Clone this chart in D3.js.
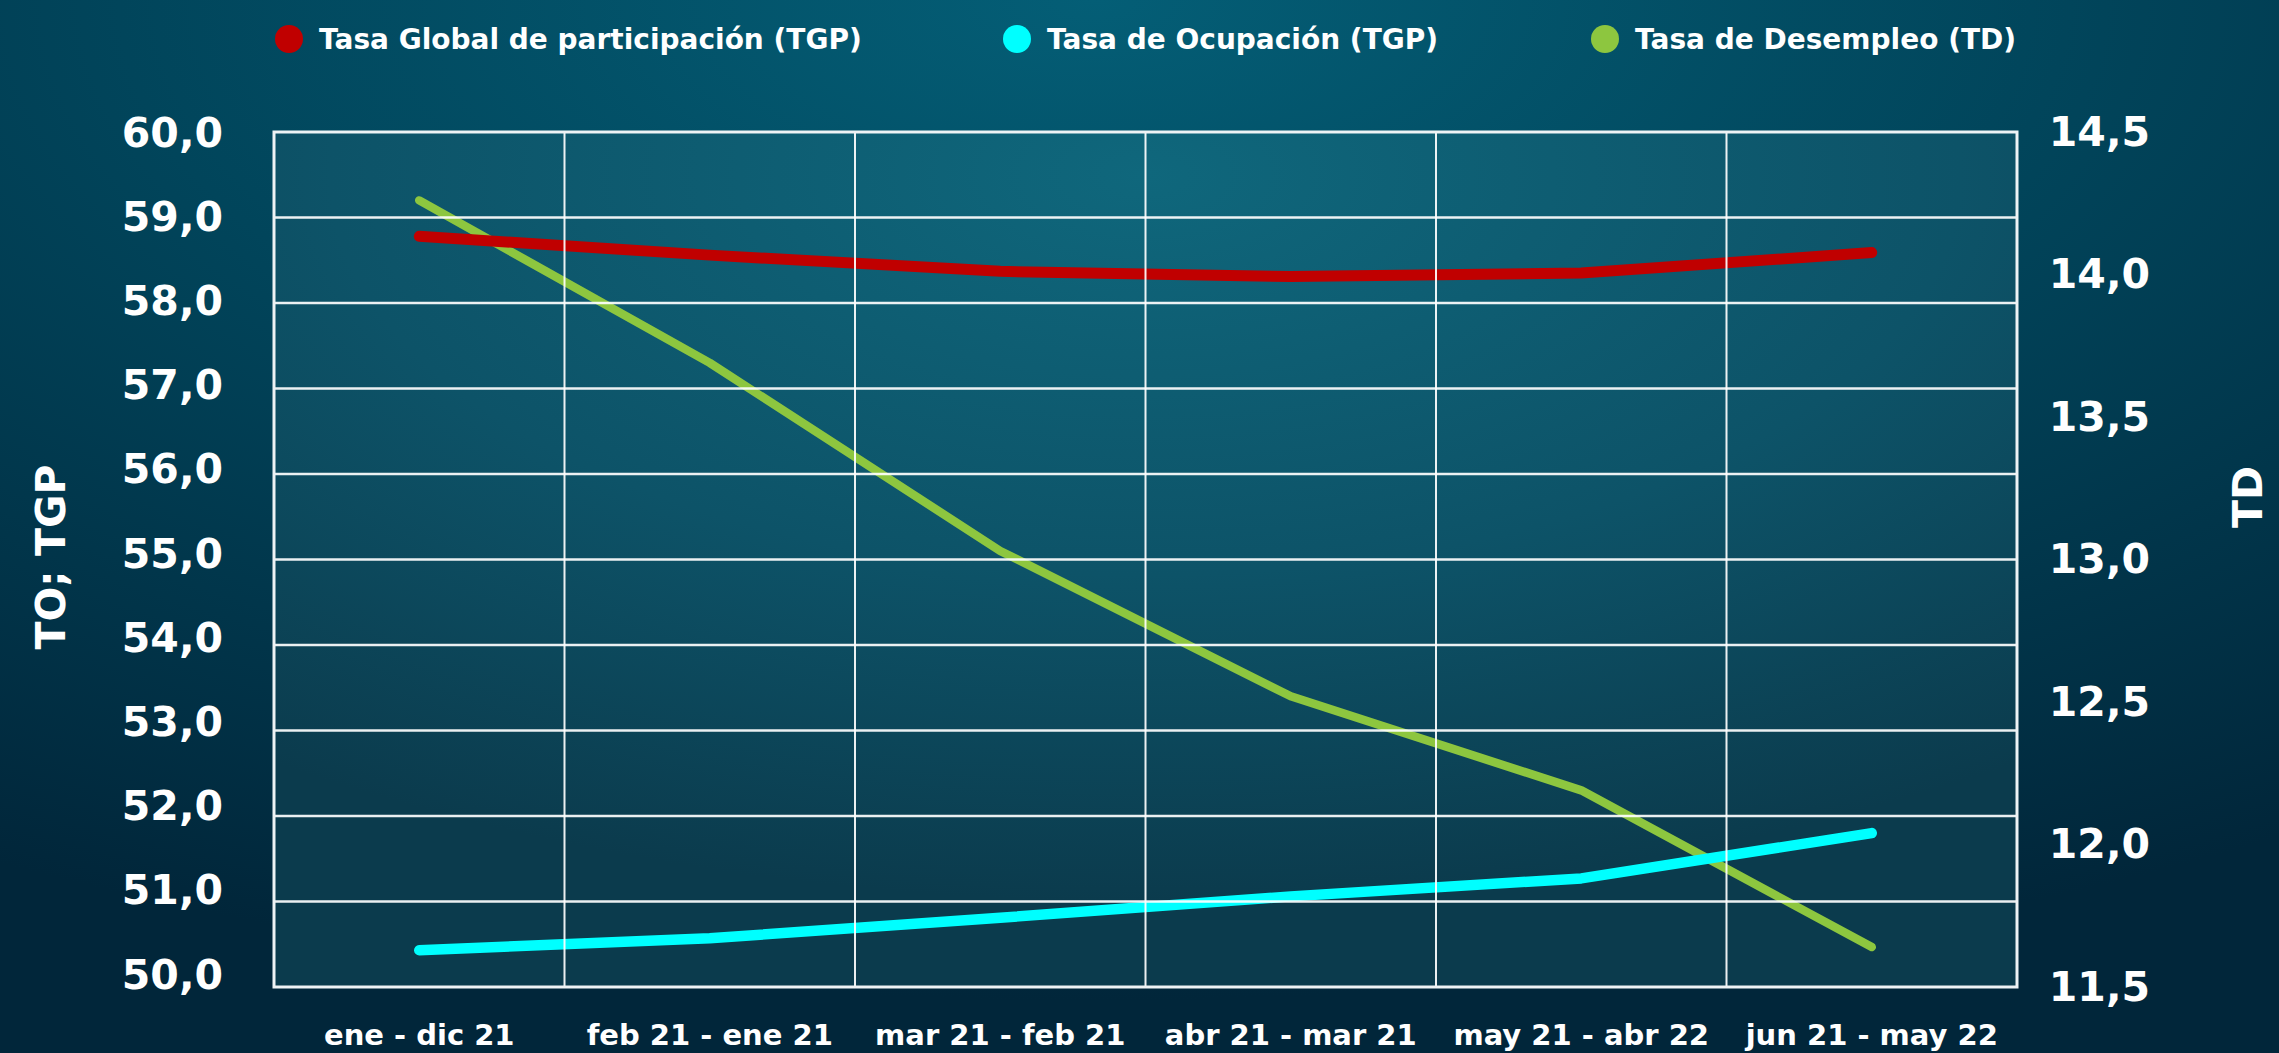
<!DOCTYPE html>
<html>
<head>
<meta charset="utf-8">
<script src="https://cdn.jsdelivr.net/npm/d3@7"></script>
<style>
  html, body { margin: 0; padding: 0; background: #012a3b; }
  svg { display: block; }
  text { font-family: "DejaVu Sans", sans-serif; font-weight: bold; fill: #ffffff; }
</style>
</head>
<body>
<svg id="chart" width="2279" height="1053"></svg>
<script>
// ---- data ----
const categories = ["ene - dic 21", "feb 21 - ene 21", "mar 21 - feb 21", "abr 21 - mar 21", "may 21 - abr 22", "jun 21 - may 22"];
const tgpValues = [58.78, 58.56, 58.37, 58.31, 58.35, 58.59];   // Tasa Global de participación (left axis)
const toValues  = [50.43, 50.57, 50.81, 51.06, 51.27, 51.80];   // Tasa de Ocupación (left axis)
const tdValues  = [14.26, 13.69, 13.03, 12.52, 12.19, 11.64];   // Tasa de Desempleo (right axis)
const leftTicks  = [50, 51, 52, 53, 54, 55, 56, 57, 58, 59, 60];
const rightTicks = [11.5, 12.0, 12.5, 13.0, 13.5, 14.0, 14.5];
const seriesNames = ["Tasa Global de participación (TGP)", "Tasa de Ocupación (TGP)", "Tasa de Desempleo (TD)"];
const seriesColors = ["#c00000", "#00ffff", "#8dc63f"];
const leftTitle = "TO; TGP";
const rightTitle = "TD";

// ---- layout ----
const W = 2279, H = 1053;
const plot = { left: 274, right: 2017, top: 132, bottom: 987 };

const svg = d3.select("#chart");
const defs = svg.append("defs");

const bg = defs.append("radialGradient").attr("id", "bgGrad")
  .attr("cx", "48%").attr("cy", "0%").attr("r", "95%")
  .attr("gradientUnits", "objectBoundingBox");
bg.append("stop").attr("offset", "0%").attr("stop-color", "#045e76");
bg.append("stop").attr("offset", "45%").attr("stop-color", "#01455b");
bg.append("stop").attr("offset", "100%").attr("stop-color", "#01263a");

const pg = defs.append("radialGradient").attr("id", "plotGrad")
  .attr("cx", "50%").attr("cy", "5%").attr("r", "85%");
pg.append("stop").attr("offset", "0%").attr("stop-color", "#0f677c");
pg.append("stop").attr("offset", "55%").attr("stop-color", "#0d5368");
pg.append("stop").attr("offset", "100%").attr("stop-color", "#0b3b4d");

svg.append("rect").attr("x", 0).attr("y", 0).attr("width", W).attr("height", H).attr("fill", "url(#bgGrad)");
svg.append("rect")
  .attr("x", plot.left).attr("y", plot.top)
  .attr("width", plot.right - plot.left).attr("height", plot.bottom - plot.top)
  .attr("fill", "url(#plotGrad)");

// ---- scales ----
const x = d3.scaleBand().domain(categories).range([plot.left, plot.right]).padding(0);
const xc = c => x(c) + x.bandwidth() / 2;
const yL = d3.scaleLinear().domain([50, 60]).range([plot.bottom, plot.top]);
// the source places the left tick labels slightly tighter than the grid
const yLLabels = d3.scaleLinear().domain([50, 60]).range([plot.bottom - 12, plot.top + 1]);
const yR = d3.scaleLinear().domain([11.5, 14.5]).range([plot.bottom, plot.top]);
const fmt = v => d3.format(".1f")(v).replace(".", ",");

// ---- lines (green first, under the others) ----
const lineL = d3.line().x((d, i) => xc(categories[i])).y(d => yL(d));
const lineR = d3.line().x((d, i) => xc(categories[i])).y(d => yR(d));

svg.append("path").datum(tdValues).attr("d", lineR)
  .attr("fill", "none").attr("stroke", seriesColors[2]).attr("stroke-width", 8.5)
  .attr("stroke-linecap", "round").attr("stroke-linejoin", "round");
svg.append("path").datum(tgpValues).attr("d", lineL)
  .attr("fill", "none").attr("stroke", seriesColors[0]).attr("stroke-width", 11)
  .attr("stroke-linecap", "round").attr("stroke-linejoin", "round");
svg.append("path").datum(toValues).attr("d", lineL)
  .attr("fill", "none").attr("stroke", seriesColors[1]).attr("stroke-width", 10.5)
  .attr("stroke-linecap", "round").attr("stroke-linejoin", "round");

// ---- grid (on top of lines) ----
const grid = svg.append("g").attr("stroke", "#ffffff").attr("stroke-opacity", 0.92);
grid.selectAll("line.h").data(leftTicks.slice(1, -1)).enter().append("line")
  .attr("x1", plot.left).attr("x2", plot.right)
  .attr("y1", d => yL(d)).attr("y2", d => yL(d)).attr("stroke-width", 2.5);
grid.selectAll("line.v").data(categories.slice(1)).enter().append("line")
  .attr("x1", d => x(d)).attr("x2", d => x(d))
  .attr("y1", plot.top).attr("y2", plot.bottom).attr("stroke-width", 2);
svg.append("rect")
  .attr("x", plot.left).attr("y", plot.top)
  .attr("width", plot.right - plot.left).attr("height", plot.bottom - plot.top)
  .attr("fill", "none").attr("stroke", "#eef3f5").attr("stroke-width", 3);

// ---- axes ----
const axL = svg.append("g").attr("transform", `translate(223,0)`)
  .call(d3.axisLeft(yLLabels).tickValues(leftTicks).tickFormat(fmt).tickSize(0).tickPadding(0));
axL.select(".domain").remove();
axL.selectAll("text").attr("font-size", 41).attr("fill", "#fff")
  .attr("font-family", "DejaVu Sans").attr("font-weight", "bold");

const axR = svg.append("g").attr("transform", `translate(2150,0)`)
  .call(d3.axisRight(yR).tickValues(rightTicks).tickFormat(fmt).tickSize(0).tickPadding(0));
axR.select(".domain").remove();
axR.selectAll("text").attr("font-size", 41).attr("fill", "#fff").attr("text-anchor", "end")
  .attr("font-family", "DejaVu Sans").attr("font-weight", "bold");

const axB = svg.append("g").attr("transform", `translate(0,${plot.bottom})`)
  .call(d3.axisBottom(x).tickSize(0).tickPadding(37));
axB.select(".domain").remove();
axB.selectAll("text").attr("font-size", 29).attr("fill", "#fff")
  .attr("font-family", "DejaVu Sans").attr("font-weight", "bold");

// ---- axis titles ----
svg.append("text").text(leftTitle)
  .attr("transform", `translate(65,557) rotate(-90)`)
  .attr("text-anchor", "middle").attr("font-size", 41);
svg.append("text").text(rightTitle)
  .attr("transform", `translate(2262,497) rotate(-90)`)
  .attr("text-anchor", "middle").attr("font-size", 41);

// ---- legend ----
const legendX = [289, 1017, 1605];
const legend = svg.append("g");
seriesNames.forEach((name, i) => {
  legend.append("circle").attr("cx", legendX[i]).attr("cy", 39).attr("r", 14).attr("fill", seriesColors[i]);
  legend.append("text").text(name).attr("x", legendX[i] + 30).attr("y", 49).attr("font-size", 28);
});
</script>
</body>
</html>
